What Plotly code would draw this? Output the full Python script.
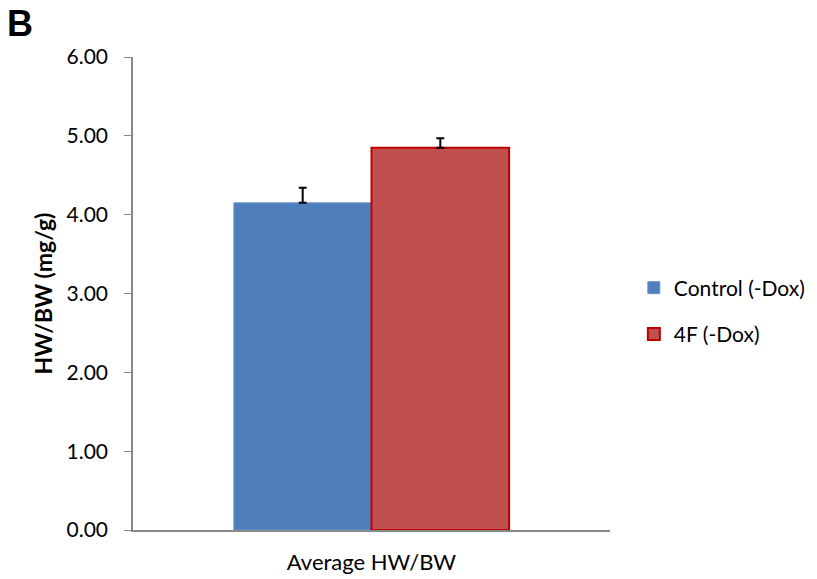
import plotly.graph_objects as go

categories = ["Average HW/BW"]
series_names = ["Control (-Dox)", "4F (-Dox)"]
values_control = [4.15]
values_4f = [4.85]
err_control = [0.19]
err_4f = [0.12]
y_ticks = [0, 1, 2, 3, 4, 5, 6]
y_tick_labels = ["0.00", "1.00", "2.00", "3.00", "4.00", "5.00", "6.00"]

FONT = "Lato, 'Open Sans', sans-serif"

fig = go.Figure()
fig.add_trace(go.Bar(
    x=categories, y=values_control, name=series_names[0],
    marker=dict(color="#4F7EBC", line=dict(color="#6F95C8", width=1)),
    error_y=dict(type="data", array=err_control, arrayminus=[0] * len(err_control), symmetric=False,
                 color="black", thickness=2, width=4),
    legendgroup="a",
))
fig.add_trace(go.Bar(
    x=categories, y=values_4f, name=series_names[1],
    marker=dict(color="#BF504D", line=dict(color="#C00000", width=2)),
    error_y=dict(type="data", array=err_4f, arrayminus=[0] * len(err_4f), symmetric=False,
                 color="black", thickness=2, width=4),
    legendgroup="b",
))

fig.update_layout(
    width=817, height=579,
    margin=dict(l=133, r=207, t=57, b=49, autoexpand=False),
    paper_bgcolor="white", plot_bgcolor="white",
    barmode="group", bargap=0.423, bargroupgap=0,
    font=dict(family=FONT, size=20, color="black"),
    showlegend=True,
    legend=dict(x=1.05, y=0.463, xanchor="left", yanchor="middle",
                font=dict(size=21, family=FONT), tracegroupgap=16,
                traceorder="grouped", bgcolor="rgba(0,0,0,0)"),
    xaxis=dict(showline=True, linecolor="#888888", linewidth=1.5, ticks="",
               ticklabelstandoff=12, automargin=False,
               tickfont=dict(size=22, family=FONT)),
    yaxis=dict(range=[0, 6], tickvals=y_ticks, ticktext=y_tick_labels,
               showline=True, linecolor="#888888", linewidth=1.5,
               ticks="outside", ticklen=7, tickcolor="#888888",
               ticklabelstandoff=12, automargin=False,
               showgrid=False, zeroline=False,
               tickfont=dict(size=21, family=FONT),
               title=dict(text="<b>HW/BW (mg/g)</b>", font=dict(size=23, family=FONT), standoff=7)),
    annotations=[dict(text="<b>B</b>", x=0, y=1, xref="paper", yref="paper",
                      xanchor="left", yanchor="top", showarrow=False,
                      font=dict(size=36, family="Liberation Sans, Arial, sans-serif"),
                      xshift=-128, yshift=56)],
)

fig.write_html("out.html")
